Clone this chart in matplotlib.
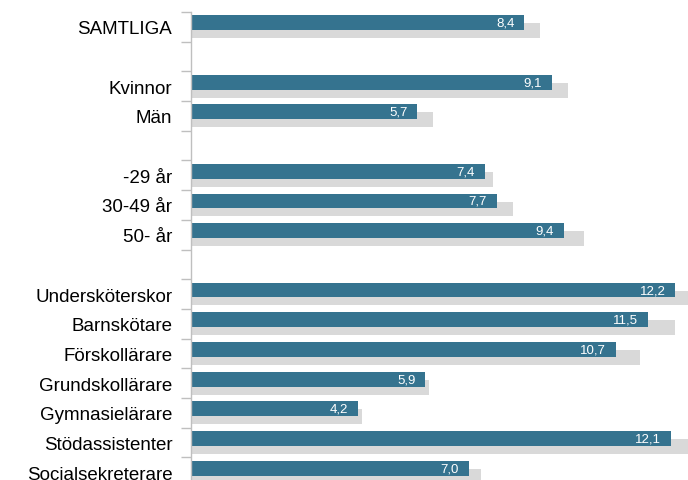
import numpy as np
import matplotlib
matplotlib.use("Agg")
import matplotlib.pyplot as plt

# rader i diagrammet, tom sträng = mellanrum
kategorier = ["SAMTLIGA", "", "Kvinnor", "Män", "", "-29 år", "30-49 år", "50- år", "",
              "Undersköterskor", "Barnskötare", "Förskollärare", "Grundskollärare",
              "Gymnasielärare", "Stödassistenter", "Socialsekreterare"]
# blå staplar (i år)
varden = [8.4, None, 9.1, 5.7, None, 7.4, 7.7, 9.4, None,
          12.2, 11.5, 10.7, 5.9, 4.2, 12.1, 7.0]
# grå staplar (jämförelse)
varden_gra = [8.8, None, 9.5, 6.1, None, 7.6, 8.1, 9.9, None,
              12.8, 12.2, 11.3, 6.0, 4.3, 12.6, 7.3]

bla = "#35738f"
gra = "#d9d9d9"
axelgra = "#bfbfbf"

plt.rcParams['font.family'] = ['Liberation Sans', 'DejaVu Sans']

fig = plt.figure(figsize=(6.88, 4.81), dpi=100)
ax = fig.add_axes([191/688, -7/481, 1 - 191/688, 475/481])

pos = np.arange(len(kategorier))
dy = 0.135

for i, v, g in zip(pos, varden, varden_gra):
    if v is None:
        continue
    ax.barh(i + dy, g, height=0.5, color=gra, zorder=1)
    ax.barh(i - dy, v, height=0.5, color=bla, zorder=2)
    ax.text(v - 0.25, i - dy, f"{v:.1f}".replace(".", ","), ha="right", va="center",
            color="white", fontsize=9.5, zorder=3)

ax.set_xlim(0, 12.52)
ax.set_ylim(len(kategorier) - 0.5, -0.5)
ax.set_xticks([])
ax.set_yticks(pos)
ax.set_yticklabels(kategorier, fontsize=13.5, color="#000000")
ax.tick_params(axis="y", which="major", length=0, pad=13.5)
ax.set_yticks(np.arange(-0.5, len(kategorier), 1.0), minor=True)
ax.tick_params(axis="y", which="minor", length=7, color=axelgra, width=1)

for s in ["top", "right", "bottom"]:
    ax.spines[s].set_visible(False)
ax.spines["left"].set_color(axelgra)
ax.spines["left"].set_linewidth(1)

fig.savefig("out.png", dpi=100)
